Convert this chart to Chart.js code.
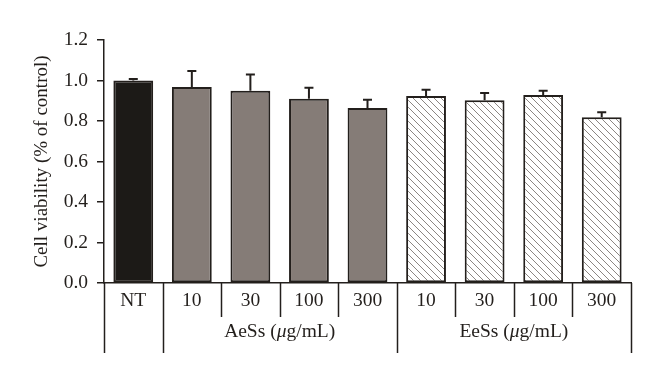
<!DOCTYPE html>
<html>
<head>
<meta charset="utf-8">
<script src="https://cdn.jsdelivr.net/npm/chart.js@4.4.0/dist/chart.umd.min.js"></script>
<style>
html,body{margin:0;padding:0;background:#fff;}
#wrap{width:660px;height:378px;position:relative;}
</style>
</head>
<body>
<div id="wrap"><canvas id="c" width="660" height="378"></canvas></div>
<script>
const categories = ['NT','10','30','100','300','10','30','100','300'];
const viability = [1.000, 0.968, 0.950, 0.910, 0.864, 0.924, 0.902, 0.928, 0.818];
const errors    = [0.008, 0.079, 0.080, 0.054, 0.041, 0.030, 0.036, 0.022, 0.025];
const groups = [
  {label:['AeSs (','μ','g/mL)'], from:1, to:4},
  {label:['EeSs (','μ','g/mL)'], from:5, to:8}
];
const yTicks = [0.0,0.2,0.4,0.6,0.8,1.0,1.2];

const INK = '#231f1c';
const FONT = '"Liberation Serif", "DejaVu Serif", serif';
const FS = 19.5;

function hatch(){
  const s = 7;
  const p = document.createElement('canvas');
  p.width = s; p.height = s;
  const g = p.getContext('2d');
  g.fillStyle = '#ffffff'; g.fillRect(0,0,s,s);
  g.strokeStyle = '#8c8682'; g.lineWidth = 1;
  g.beginPath();
  g.moveTo(0,0); g.lineTo(s,s);
  g.moveTo(-1,s-1); g.lineTo(1,s+1);
  g.moveTo(s-1,-1); g.lineTo(s+1,1);
  g.stroke();
  return document.getElementById('c').getContext('2d').createPattern(p,'repeat');
}
const pat = hatch();
const colors = categories.map((c,i)=> i===0 ? '#1c1a17' : (i<5 ? '#857c77' : pat));

const errPlugin = {
  id:'errbars',
  afterDatasetsDraw(chart){
    const ctx = chart.ctx, y = chart.scales.y;
    const meta = chart.getDatasetMeta(0);
    ctx.save();
    ctx.strokeStyle = INK; ctx.lineWidth = 2;
    meta.data.forEach((bar,i)=>{
      const yb = y.getPixelForValue(viability[i]);
      const yt = y.getPixelForValue(viability[i]+errors[i]);
      ctx.beginPath();
      ctx.moveTo(bar.x, yb); ctx.lineTo(bar.x, yt);
      ctx.moveTo(bar.x-4.5, yt); ctx.lineTo(bar.x+4.5, yt);
      ctx.stroke();
    });
    ctx.restore();
  }
};

const tablePlugin = {
  id:'table',
  afterDraw(chart){
    const ctx = chart.ctx, x = chart.scales.x, area = chart.chartArea;
    const n = categories.length;
    const w = (area.right-area.left)/n;
    const top = area.bottom;
    const shortB = top + 34, longB = top + 70;
    const major = new Set([0,1,5,9]);
    ctx.save();
    ctx.strokeStyle = INK; ctx.lineWidth = 1.5;
    for(let k=0;k<=n;k++){
      const px = Math.round(area.left + k*w) + 0.5;
      ctx.beginPath();
      ctx.moveTo(px, top);
      ctx.lineTo(px, major.has(k) ? longB : shortB);
      ctx.stroke();
    }
    ctx.fillStyle = INK;
    ctx.textBaseline = 'middle';
    groups.forEach(g=>{
      const cx = (x.getPixelForValue(g.from) + x.getPixelForValue(g.to))/2;
      const fonts = [FS+'px '+FONT, 'italic '+FS+'px '+FONT, FS+'px '+FONT];
      let widths = g.label.map((t,i)=>{ctx.font=fonts[i]; return ctx.measureText(t).width;});
      let total = widths.reduce((a,b)=>a+b,0);
      let sx = cx - total/2;
      ctx.textAlign = 'left';
      g.label.forEach((t,i)=>{ctx.font=fonts[i]; ctx.fillText(t, sx, top+49); sx += widths[i];});
    });
    ctx.restore();
  }
};

new Chart(document.getElementById('c'), {
  type:'bar',
  data:{
    labels:categories,
    datasets:[{
      data:viability,
      backgroundColor:colors,
      borderColor:INK,
      borderWidth:2,
      borderSkipped:false,
      categoryPercentage:1.0,
      barPercentage:0.68
    }]
  },
  options:{
    responsive:false,
    animation:false,
    devicePixelRatio:1,
    layout:{padding:{top:40,right:29,bottom:0,left:0}},
    plugins:{legend:{display:false},tooltip:{enabled:false}},
    scales:{
      x:{
        grid:{display:false, drawTicks:false},
        border:{display:true,color:INK,width:1.5},
        ticks:{color:INK,font:{family:FONT,size:FS},padding:6,maxRotation:0},
        afterFit(s){s.height = 95;}
      },
      y:{
        min:0,max:1.2,
        afterBuildTicks(s){s.ticks = yTicks.map(v=>({value:v}));},
        grid:{drawOnChartArea:false,drawTicks:true,tickLength:7,color:INK,lineWidth:1.5},
        border:{display:true,color:INK,width:1.5},
        ticks:{color:INK,font:{family:FONT,size:FS},padding:9,callback:v=>Number(v).toFixed(1)},
        title:{display:true,text:'Cell viability (% of control)',color:INK,font:{family:FONT,size:19},padding:{top:31,bottom:0}},
        afterFit(s){s.width = 104;}
      }
    }
  },
  plugins:[errPlugin, tablePlugin]
});
</script>
</body>
</html>
